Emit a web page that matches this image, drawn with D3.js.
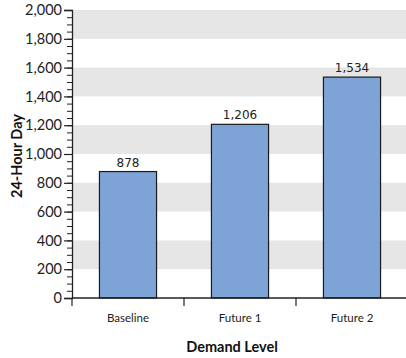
<!DOCTYPE html>
<html>
<head>
<meta charset="utf-8">
<script src="https://cdn.jsdelivr.net/npm/d3@7"></script>
<style>
  body { margin: 0; background: #fff; }
  svg { display: block; font-family: "Lato", "Open Sans", sans-serif; }
</style>
</head>
<body>
<svg id="chart" width="406" height="358"></svg>
<script>
// Demand levels and their 24-hour totals
const categories = ["Baseline", "Future 1", "Future 2"];
const dayTotals = [878, 1206, 1534];
const yTickValues = [0, 200, 400, 600, 800, 1000, 1200, 1400, 1600, 1800, 2000];
const xTitle = "Demand Level";
const yTitle = "24-Hour Day";

const svg = d3.select("#chart");
const margin = { left: 72, top: 10, bottom: 298, right: 408 };

const x = d3.scaleBand()
  .domain(categories)
  .range([margin.left, margin.right])
  .paddingInner(0.49)
  .paddingOuter(0.245);

const xCat = d3.scaleBand().domain(categories).range([margin.left, margin.right]);

const y = d3.scaleLinear().domain([0, 2000]).range([margin.bottom, margin.top]);

// alternating horizontal bands
const bands = d3.range(200, 2000, 400);
svg.append("g").selectAll("rect").data(bands).join("rect")
  .attr("x", margin.left)
  .attr("width", margin.right - margin.left)
  .attr("y", d => y(d + 200))
  .attr("height", d => y(d) - y(d + 200))
  .attr("fill", "#e6e6e6");

// bars
svg.append("g").selectAll("rect").data(dayTotals).join("rect")
  .attr("x", (d, i) => x(categories[i]))
  .attr("width", x.bandwidth())
  .attr("y", d => y(d))
  .attr("height", d => y(0) - y(d))
  .attr("fill", "#7ea3d6")
  .attr("stroke", "#1a1a1a")
  .attr("stroke-width", 1.2);

// value labels
svg.append("g").selectAll("text").data(dayTotals).join("text")
  .attr("x", (d, i) => x(categories[i]) + x.bandwidth() / 2)
  .attr("y", d => y(d) - 5)
  .attr("text-anchor", "middle")
  .attr("font-family", "'DejaVu Sans', sans-serif")
  .attr("font-size", 12)
  .attr("fill", "#222")
  .text(d => d3.format(",")(d));

// minor y ticks
const yMinor = svg.append("g").attr("transform", `translate(${margin.left},0)`)
  .call(d3.axisLeft(y).tickValues(d3.range(0, 2001, 50)).tickSize(5).tickFormat(""));
yMinor.select(".domain").remove();
yMinor.selectAll("line").attr("stroke", "#222");

// major y axis
const yAxis = svg.append("g").attr("transform", `translate(${margin.left},0)`)
  .call(d3.axisLeft(y).tickValues(yTickValues).tickSize(8).tickPadding(2).tickFormat(d3.format(",")));
yAxis.select(".domain").attr("stroke", "#222").attr("stroke-width", 1.3);
yAxis.selectAll("line").attr("stroke", "#222").attr("stroke-width", 1.2);
yAxis.selectAll("text").attr("font-size", 14.5).attr("fill", "#222")
  .attr("font-family", "Lato, sans-serif");

// x axis with ticks at category boundaries
const boundaries = categories.map(c => xCat(c));
const xAxis = svg.append("g").attr("transform", `translate(0,${margin.bottom})`);
xAxis.append("line")
  .attr("x1", margin.left).attr("x2", margin.right)
  .attr("stroke", "#222").attr("stroke-width", 1.3);
xAxis.selectAll("line.tick").data(boundaries).join("line")
  .attr("class", "tick")
  .attr("x1", d => d).attr("x2", d => d)
  .attr("y1", 0).attr("y2", 8)
  .attr("stroke", "#222").attr("stroke-width", 1.2);
xAxis.selectAll("text").data(categories).join("text")
  .attr("x", d => xCat(d) + xCat.bandwidth() / 2)
  .attr("y", 24)
  .attr("text-anchor", "middle")
  .attr("font-size", 11.5)
  .attr("fill", "#222")
  .text(d => d);

// axis titles
svg.append("text")
  .attr("x", (margin.left + margin.right) / 2 - 8)
  .attr("y", 352)
  .attr("text-anchor", "middle")
  .attr("font-size", 14.5)
  .attr("font-weight", "bold")
  .attr("fill", "#111")
  .text(xTitle);

svg.append("text")
  .attr("transform", `translate(22,${(margin.top + margin.bottom) / 2 + 2}) rotate(-90)`)
  .attr("text-anchor", "middle")
  .attr("font-size", 14.5)
  .attr("font-weight", "bold")
  .attr("fill", "#111")
  .text(yTitle);
</script>
</body>
</html>
